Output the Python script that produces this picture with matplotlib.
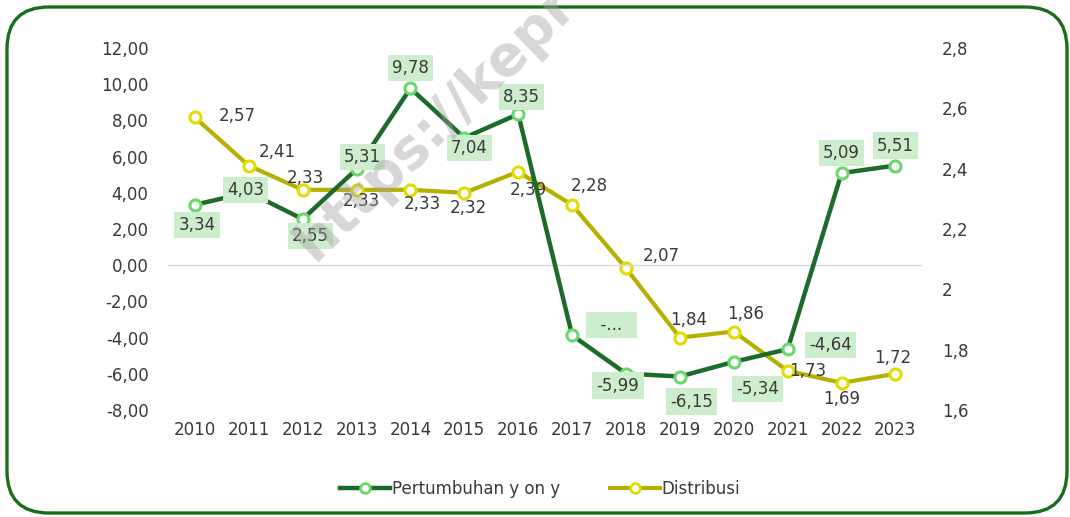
import matplotlib.pyplot as plt
from matplotlib.lines import Line2D
from matplotlib.patches import FancyBboxPatch
from matplotlib.transforms import IdentityTransform

plt.rcParams['font.family'] = ['DejaVu Sans']

years = ['2010', '2011', '2012', '2013', '2014', '2015', '2016',
         '2017', '2018', '2019', '2020', '2021', '2022', '2023']
growth = [3.34, 4.03, 2.55, 5.31, 9.78, 7.04, 8.35,
          -3.87, -5.99, -6.15, -5.34, -4.64, 5.09, 5.51]
growth_text = ['3,34', '4,03', '2,55', '5,31', '9,78', '7,04', '8,35',
               '-...', '-5,99', '-6,15', '-5,34', '-4,64', '5,09', '5,51']
share = [2.57, 2.41, 2.33, 2.33, 2.33, 2.32, 2.39,
         2.28, 2.07, 1.84, 1.86, 1.73, 1.69, 1.72]
left_ticks = [-8, -6, -4, -2, 0, 2, 4, 6, 8, 10, 12]
right_ticks = [1.6, 1.8, 2.0, 2.2, 2.4, 2.6, 2.8]

# label offsets in pixels
growth_off = [(2, -20), (-3, 2), (8, -17), (6, 12), (0, 20), (5, -10), (3, 17),
              (39, 10), (-8, -12), (12, -25), (24, -27), (43, 4), (0, 20), (0, 20)]
share_off = [(42, 1), (28, 14), (3, 12), (5, -11), (12, -14), (4, -15), (10, -18),
             (17, 19), (35, 12), (9, 18), (12, 18), (20, 0), (0, -16), (-3, 16)]

GREEN = '#1d6b2a'
GREEN_MK = '#6ad96a'
YELLOW = '#b8b000'
YELLOW_MK = '#e2dc00'
TXT = '#3a3a3a'

fig = plt.figure(figsize=(10.7, 5.17), dpi=100)
ax = fig.add_axes([0.157, 0.207, 0.705, 0.700])
ax2 = ax.twinx()

x = list(range(len(years)))
ax.axhline(0, color='#d9d9d9', lw=1, zorder=0)

ax2.plot(x, share, color=YELLOW, lw=3, marker='o', ms=8,
         mfc='white', mec=YELLOW_MK, mew=2.2, zorder=3)
ax.plot(x, growth, color=GREEN, lw=3.2, marker='o', ms=8,
        mfc='white', mec=GREEN_MK, mew=2.2, zorder=3)

for xi, v, t, off in zip(x, growth, growth_text, growth_off):
    if t == '-...':
        t = '  -...  '
    ax.annotate(t, (xi, v), xytext=off, textcoords='offset pixels',
                ha='center', va='center', fontsize=12, color=TXT, zorder=5,
                bbox=dict(boxstyle='square,pad=0.25', fc='#cdeecd', ec='none'))
for xi, v, off in zip(x, share, share_off):
    ax2.annotate(f'{v:.2f}'.replace('.', ','), (xi, v), xytext=off,
                 textcoords='offset pixels', ha='center', va='center',
                 fontsize=12, color=TXT, zorder=5)

ax.set_xlim(-0.5, len(years) - 0.5)
ax.set_ylim(-8, 12)
ax2.set_ylim(1.6, 2.8)
ax.set_xticks(x)
ax.set_xticklabels(years)
ax.set_yticks(left_ticks)
ax.set_yticklabels([f'{t:.2f}'.replace('.', ',') for t in left_ticks])
ax2.set_yticks(right_ticks)
ax2.set_yticklabels([f'{t:g}'.replace('.', ',') for t in right_ticks])

for a in (ax, ax2):
    for s in a.spines.values():
        s.set_visible(False)
    a.tick_params(length=0, labelsize=12, colors=TXT)
ax.tick_params(axis='y', pad=14)
ax2.tick_params(axis='y', pad=14)
ax.tick_params(axis='x', pad=8)
ax.set_zorder(ax2.get_zorder() + 1)
ax.patch.set_visible(False)

handles = [
    Line2D([], [], color=GREEN, lw=3.2, marker='o', ms=7, mfc='white', mec=GREEN_MK, mew=2),
    Line2D([], [], color=YELLOW, lw=3, marker='o', ms=7, mfc='white', mec=YELLOW_MK, mew=2),
]
fig.legend(handles, ['Pertumbuhan y on y', 'Distribusi'], loc='center',
           bbox_to_anchor=(0.505, 1 - 489 / 517), ncol=2, frameon=False,
           fontsize=12, handlelength=3.0, handletextpad=0.1, columnspacing=3,
           labelcolor=TXT)

# watermark
fig.text(314 / 1070, 1 - 262 / 517, 'https://kepr', rotation=44,
         rotation_mode='anchor', ha='left', va='baseline', fontsize=40,
         fontweight='bold', color='#a0a0a0', alpha=0.42, zorder=10)

frame = FancyBboxPatch((7, 4), 1060, 506, boxstyle='round,pad=0,rounding_size=42',
                       transform=IdentityTransform(), fc='none', ec='#1a6e1a', lw=2.4)
fig.patches.append(frame)

fig.savefig('out.png', dpi=100)
